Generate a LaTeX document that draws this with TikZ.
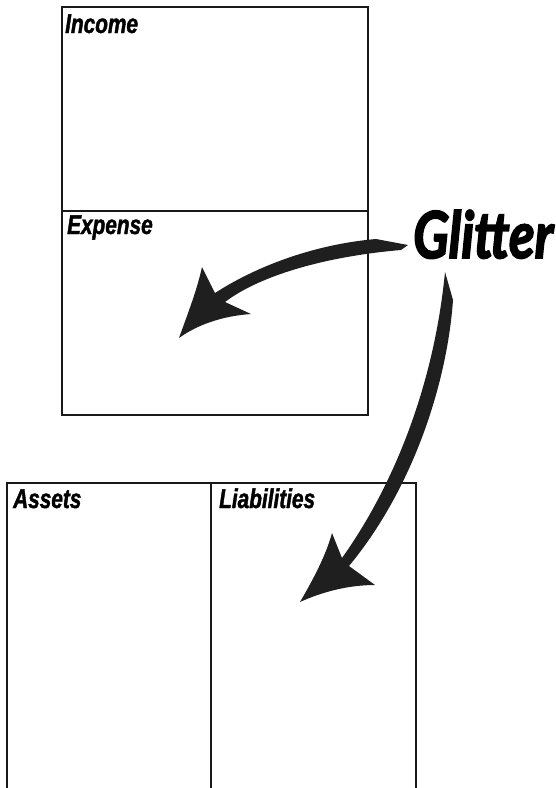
\documentclass[tikz,border=0pt]{standalone}
\usepackage{fontspec}
\usepackage{graphicx}
\newfontfamily\lblfont{Liberation Sans}[FakeStretch=0.77, FakeBold=1.5]
\newfontfamily\glitfont{Lato}[FakeBold=3]
\tikzset{
  boxline/.style={draw=black!90, line width=1.2pt},
  lbl/.style={anchor=base west, inner sep=0pt, font=\lblfont\bfseries\itshape\fontsize{27}{28}\selectfont},
  brush/.style={fill=black!88, draw=none}
}
\begin{document}
\begin{tikzpicture}[x=1pt,y=-1pt]
\useasboundingbox (0,0) rectangle (556,788);
% top box
\draw[boxline] (62,7) rectangle (368,415);
\draw[boxline] (62,211) -- (368,211);
% bottom boxes
\draw[boxline] (7,788) -- (7,483) -- (416,483) -- (416,788);
\draw[boxline] (211,483) -- (211,788);
% labels
\node[lbl] (income) at (65,33) {Income};
\node[lbl] (expense) at (67,234) {Expense};
\node[lbl] (assets) at (13,508) {Assets};
\node[lbl] (liab) at (219,508) {Liabilities};
\node[anchor=base west, inner sep=0pt] (glitter) at (413,258)
  {\resizebox{140pt}{48pt}{\glitfont\bfseries\itshape Glitter}};
% arrow to Expense
\fill[brush] (376,239) -- (408,245) -- (401,250)
  .. controls (330,256) and (262,274) .. (225,302)
  -- (251,314)
  .. controls (222,316) and (197,325) .. (179,338)
  .. controls (188,313) and (197,290) .. (202,267)
  -- (215,293)
  .. controls (260,264) and (318,244) .. (376,239) -- cycle;
% arrow to Liabilities
\fill[brush] (445,272) -- (453,300)
  .. controls (447,385) and (412,490) .. (349,566)
  -- (375,585)
  .. controls (348,585) and (322,592) .. (300,602)
  .. controls (314,578) and (326,555) .. (332,533)
  -- (342,558)
  .. controls (394,485) and (434,385) .. (445,272) -- cycle;
\end{tikzpicture}
\end{document}
